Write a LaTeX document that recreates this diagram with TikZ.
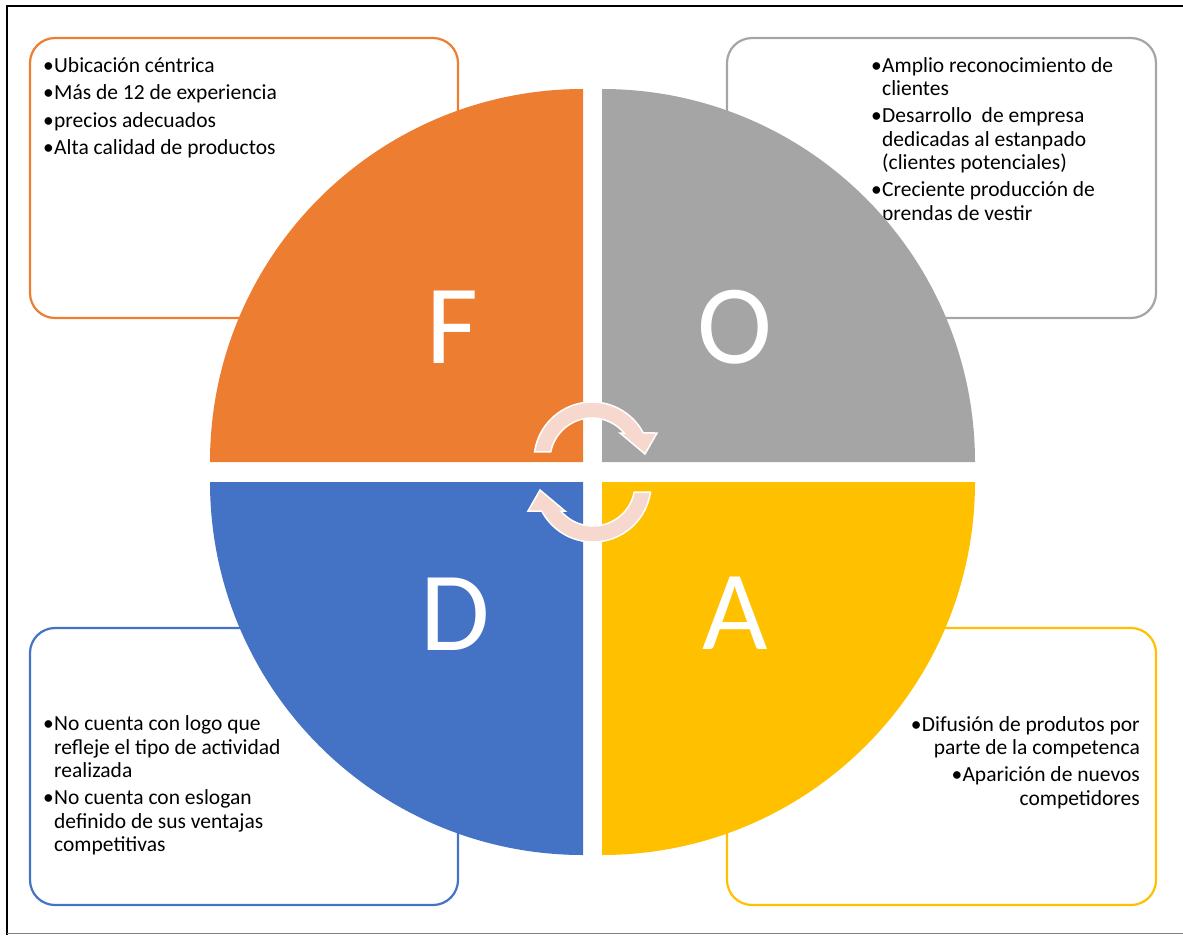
\documentclass[tikz,border=0pt]{standalone}
\usepackage{fontspec}
\setmainfont{Carlito}
\usepackage{tikz}

\definecolor{fortaleza}{HTML}{ED7D31}
\definecolor{oportunidad}{HTML}{A5A5A5}
\definecolor{debilidad}{HTML}{4472C4}
\definecolor{amenaza}{HTML}{FFC000}
\definecolor{ciclo}{HTML}{F7D8CE}

\newcommand{\bul}{\makebox[11pt][l]{\textbullet}}
\newcommand{\sig}{\hspace*{11pt}}

\begin{document}
\begin{tikzpicture}[x=1pt, y=1pt,
  caja/.style = {rounded corners=25pt, line width=2.2pt},
  lista/.style = {inner sep=0pt, font=\fontsize{21.5}{23.5}\selectfont, execute at begin node=\strut},
  letra/.style = {white, anchor=base, inner sep=0pt, font=\fontsize{113}{113}\selectfont},
  flecha/.style = {fill=ciclo, draw=white, line width=1.5pt}]

\useasboundingbox (0,0) rectangle (1183,-935);

% marco
\draw [line width=2.5pt] (7,-935) -- (7,-6) -- (1183,-6);
\draw [gray, line width=1pt] (7,-933) -- (1183,-933);

% cajas de texto
\draw [caja, fortaleza] (30,-38) rectangle (458,-318);
\draw [caja, oportunidad] (727,-38) rectangle (1156,-318);
\draw [caja, debilidad] (30,-628) rectangle (458,-905);
\draw [caja, amenaza] (727,-628) rectangle (1156,-905);

\node [lista, anchor=north west, align=left] (txtF) at (43,-57)
  {\bul Ubicación céntrica\\[4pt]
   \bul Más de 12 de experiencia\\[4pt]
   \bul precios adecuados\\[4pt]
   \bul Alta calidad de productos};
\node [lista, anchor=north west, align=left] (txtO) at (871,-57)
  {\bul Amplio reconocimiento de\\
   \sig clientes\\[3.5pt]
   \bul Desarrollo~ de empresa\\
   \sig dedicadas al estanpado\\
   \sig (clientes potenciales)\\[3.5pt]
   \bul Creciente producción de\\
   \sig prendas de vestir};
\node [lista, anchor=north west, align=left] (txtD) at (43,-715.5)
  {\bul No cuenta con logo que\\
   \sig refleje el tipo de actividad\\
   \sig realizada\\[3.5pt]
   \bul No cuenta con eslogan\\
   \sig definido de sus ventajas\\
   \sig competitivas};
\node [lista, anchor=north east, align=right] (txtA) at (1140,-716)
  {\bul Difusión de produtos por\\
   parte de la competenca\\[3.5pt]
   \bul Aparición de nuevos\\
   competidores};

% cuadrantes
\fill [fortaleza] (583,-462) -- (210,-462) arc[start angle=180, end angle=90, radius=373] -- cycle;
\fill [oportunidad] (602,-462) -- (602,-89) arc[start angle=90, end angle=0, radius=373] -- cycle;
\fill [debilidad] (583,-482) -- (583,-855) arc[start angle=270, end angle=180, radius=373] -- cycle;
\fill [amenaza] (602,-482) -- (975,-482) arc[start angle=0, end angle=-90, radius=373] -- cycle;

\node [letra] (F) at (452,-363) {F};
\node [letra] (O) at (735,-363) {O};
\node [letra] (D) at (455,-650) {D};
\node [letra] (A) at (735,-649) {A};

% flechas del ciclo
\foreach \cx/\cy/\rot in {592/-460/0, 593/-484/180}
  \draw [flecha, shift={(\cx,\cy)}, rotate=\rot]
    (172:58) arc[start angle=172, end angle=27.8, radius=58]
    -- (65,27) -- (53,6) -- (28,27) -- (40:42)
    arc[start angle=40, end angle=169, radius=42] -- cycle;
\end{tikzpicture}
\end{document}
